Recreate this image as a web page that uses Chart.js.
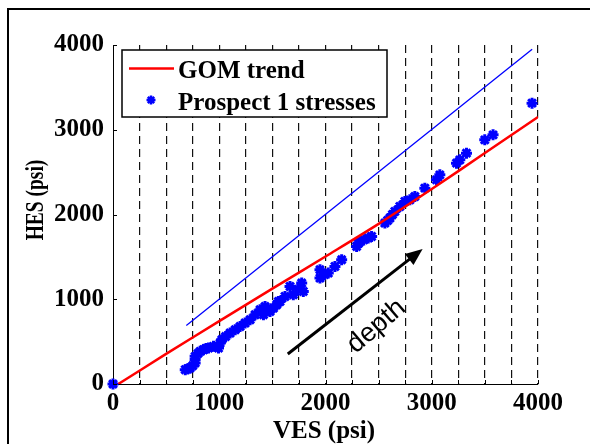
<!DOCTYPE html>
<html>
<head>
<meta charset="utf-8">
<script src="https://cdn.jsdelivr.net/npm/chart.js@4.4.1/dist/chart.umd.min.js"></script>
<style>
  html, body { margin: 0; padding: 0; background: #fff; }
  #wrap { width: 590px; height: 444px; }
</style>
</head>
<body>
<div id="wrap"><canvas id="chart" width="590" height="444"></canvas></div>
<script>
// datos
const gomVes = [50, 500, 1000, 1500, 2000, 2500, 3000, 3500, 4000];
const gomHes = [0, 355, 742, 1125, 1505, 1890, 2300, 2725, 3150];

const refVes = [690, 3945];
const refHes = [690, 3950];

const prospectVes = [0, 680, 705, 726, 750, 773, 773, 773, 800, 820, 852, 875, 899, 946, 993, 1008, 1024, 1060,
  1102, 1150, 1196, 1243, 1290, 1337, 1384, 1416, 1431, 1455, 1478, 1510, 1541, 1556, 1572, 1619, 1666, 1697,
  1740, 1776, 1791, 1948, 1948, 1990, 2026, 2089, 2152, 2293, 2310, 2324, 2360, 2402, 2434, 2559, 2585, 2606,
  2630, 2653, 2700, 2747, 2794, 2841, 2935, 3045, 3076, 3233, 3264, 3327, 3499, 3577, 3944];
const prospectHes = [0, 169, 180, 189, 215, 248, 290, 326, 360, 385, 404, 420, 424, 444, 424, 483, 522, 560,
  601, 640, 679, 719, 758, 817, 876, 817, 915, 880, 856, 896, 935, 974, 974, 1033, 1151, 1053,
  1120, 1191, 1092, 1348, 1250, 1290, 1309, 1387, 1466, 1623, 1660, 1682, 1700, 1722, 1741, 1899, 1930, 1958,
  2000, 2036, 2095, 2154, 2173, 2212, 2311, 2409, 2468, 2606, 2645, 2724, 2881, 2940, 3314];

const xTicks = [0, 1000, 2000, 3000, 4000];
const yTicks = [0, 1000, 2000, 3000, 4000];

// flecha "depth" en coordenadas de datos
const arrowFrom = [1645, 354];
const arrowTo = [2914, 1592];
const depthAt = [2480, 680];

const toXY = (xs, ys) => xs.map((x, i) => ({ x: x, y: ys[i] }));

const serif = '"Liberation Serif", "Times New Roman", serif';

// marco, titulos, flecha y leyenda
const decoPlugin = {
  id: 'deco',
  beforeDraw(chart) {
    const ctx = chart.ctx;
    ctx.save();
    ctx.fillStyle = '#fff';
    ctx.fillRect(0, 0, chart.width, chart.height);
    ctx.restore();
  },
  afterDraw(chart) {
    const ctx = chart.ctx;
    const xs = chart.scales.x, ys = chart.scales.y;
    const area = chart.chartArea;
    ctx.save();

    // marco exterior
    ctx.strokeStyle = '#000';
    ctx.lineWidth = 2;
    ctx.strokeRect(8, 9, 620, 500);

    // ticks hacia dentro
    ctx.lineWidth = 1;
    ctx.beginPath();
    xs.ticks.forEach(t => {
      const px = Math.round(xs.getPixelForValue(t.value)) + 0.5;
      ctx.moveTo(px, area.bottom);
      ctx.lineTo(px, area.bottom - 4);
    });
    yTicks.forEach(v => {
      const py = Math.round(ys.getPixelForValue(v)) + 0.5;
      ctx.moveTo(area.left, py);
      ctx.lineTo(area.left + 4, py);
    });
    ctx.stroke();

    // titulos de ejes
    ctx.fillStyle = '#000';
    ctx.font = 'bold 25px ' + serif;
    ctx.textAlign = 'center';
    ctx.textBaseline = 'alphabetic';
    ctx.fillText('VES (psi)', 324, 438);

    ctx.save();
    ctx.translate(43, 200);
    ctx.rotate(-Math.PI / 2);
    ctx.scale(0.75, 1);
    ctx.font = 'bold 26px ' + serif;
    ctx.fillText('HES (psi)', 0, 0);
    ctx.restore();

    // flecha
    const x1 = xs.getPixelForValue(arrowFrom[0]), y1 = ys.getPixelForValue(arrowFrom[1]);
    const x2 = xs.getPixelForValue(arrowTo[0]), y2 = ys.getPixelForValue(arrowTo[1]);
    const ang = Math.atan2(y2 - y1, x2 - x1);
    const head = 17;
    ctx.strokeStyle = '#000';
    ctx.lineWidth = 3;
    ctx.beginPath();
    ctx.moveTo(x1, y1);
    ctx.lineTo(x2 - head * 0.8 * Math.cos(ang), y2 - head * 0.8 * Math.sin(ang));
    ctx.stroke();
    ctx.beginPath();
    ctx.moveTo(x2, y2);
    ctx.lineTo(x2 - head * Math.cos(ang) + 7 * Math.sin(ang), y2 - head * Math.sin(ang) - 7 * Math.cos(ang));
    ctx.lineTo(x2 - head * Math.cos(ang) - 7 * Math.sin(ang), y2 - head * Math.sin(ang) + 7 * Math.cos(ang));
    ctx.closePath();
    ctx.fillStyle = '#000';
    ctx.fill();

    // texto depth
    ctx.save();
    ctx.translate(xs.getPixelForValue(depthAt[0]), ys.getPixelForValue(depthAt[1]));
    ctx.rotate(ang - 0.05);
    ctx.font = '27px "Liberation Sans", Arial, sans-serif';
    ctx.textAlign = 'center';
    ctx.textBaseline = 'middle';
    ctx.fillText('depth', 0, 0);
    ctx.restore();

    // leyenda
    ctx.fillStyle = '#fff';
    ctx.fillRect(122, 50, 265, 67);
    ctx.strokeStyle = '#000';
    ctx.lineWidth = 1.5;
    ctx.strokeRect(122, 50, 265, 67);

    ctx.strokeStyle = '#ff0000';
    ctx.lineWidth = 2.5;
    ctx.beginPath();
    ctx.moveTo(129, 68.5);
    ctx.lineTo(174, 68.5);
    ctx.stroke();

    ctx.strokeStyle = '#0000ff';
    ctx.lineWidth = 2.5;
    ctx.beginPath();
    const r = 4.5;
    for (let k = 0; k < 4; k++) {
      const a = k * Math.PI / 4;
      ctx.moveTo(151 - r * Math.cos(a), 100 - r * Math.sin(a));
      ctx.lineTo(151 + r * Math.cos(a), 100 + r * Math.sin(a));
    }
    ctx.stroke();

    ctx.fillStyle = '#000';
    ctx.font = 'bold 25px ' + serif;
    ctx.textAlign = 'left';
    ctx.fillText('GOM trend', 178, 78);
    ctx.fillText('Prospect 1 stresses', 178, 110);

    ctx.restore();
  }
};

new Chart(document.getElementById('chart'), {
  type: 'scatter',
  data: {
    datasets: [
      {
        label: 'GOM trend',
        data: toXY(gomVes, gomHes),
        showLine: true,
        borderColor: '#ff0000',
        borderWidth: 2.5,
        pointRadius: 0,
        tension: 0.3
      },
      {
        label: 'ref',
        data: toXY(refVes, refHes),
        showLine: true,
        borderColor: '#0000ff',
        borderWidth: 1.3,
        pointRadius: 0
      },
      {
        label: 'Prospect 1 stresses',
        data: toXY(prospectVes, prospectHes),
        showLine: false,
        pointStyle: 'star',
        pointRadius: 5.5,
        borderColor: '#0000ff',
        backgroundColor: '#0000ff',
        pointBorderWidth: 3,
        clip: false
      }
    ]
  },
  options: {
    responsive: false,
    animation: false,
    events: [],
    layout: { padding: { top: 45, right: 52, left: 0, bottom: 0 } },
    plugins: {
      legend: { display: false },
      tooltip: { enabled: false }
    },
    scales: {
      x: {
        type: 'linear',
        min: 0,
        max: 4000,
        afterFit: s => { s.height = 60; },
        afterBuildTicks: s => {
          const t = [];
          for (let v = 0; v <= 4000; v += 250) t.push({ value: v });
          s.ticks = t;
        },
        ticks: {
          autoSkip: false,
          maxRotation: 0,
          padding: 5,
          color: '#000',
          font: { family: serif, size: 25, weight: 'bold' },
          callback: v => xTicks.includes(v) ? String(v) : ''
        },
        grid: {
          drawTicks: false,
          lineWidth: 1.2,
          color: c => (c.tick && c.tick.value === 0) ? 'rgba(0,0,0,0)' : '#111'
        },
        border: { display: true, color: '#000', width: 1, dash: [8, 5] }
      },
      y: {
        type: 'linear',
        min: 0,
        max: 4000,
        afterFit: s => { s.width = 113; },
        afterBuildTicks: s => { s.ticks = yTicks.map(v => ({ value: v })); },
        ticks: {
          padding: 9,
          color: '#000',
          font: { family: serif, size: 25, weight: 'bold' },
          callback: v => String(v)
        },
        grid: { display: false, drawTicks: false },
        border: { display: true, color: '#000', width: 1 }
      }
    }
  },
  plugins: [decoPlugin]
});
</script>
</body>
</html>
